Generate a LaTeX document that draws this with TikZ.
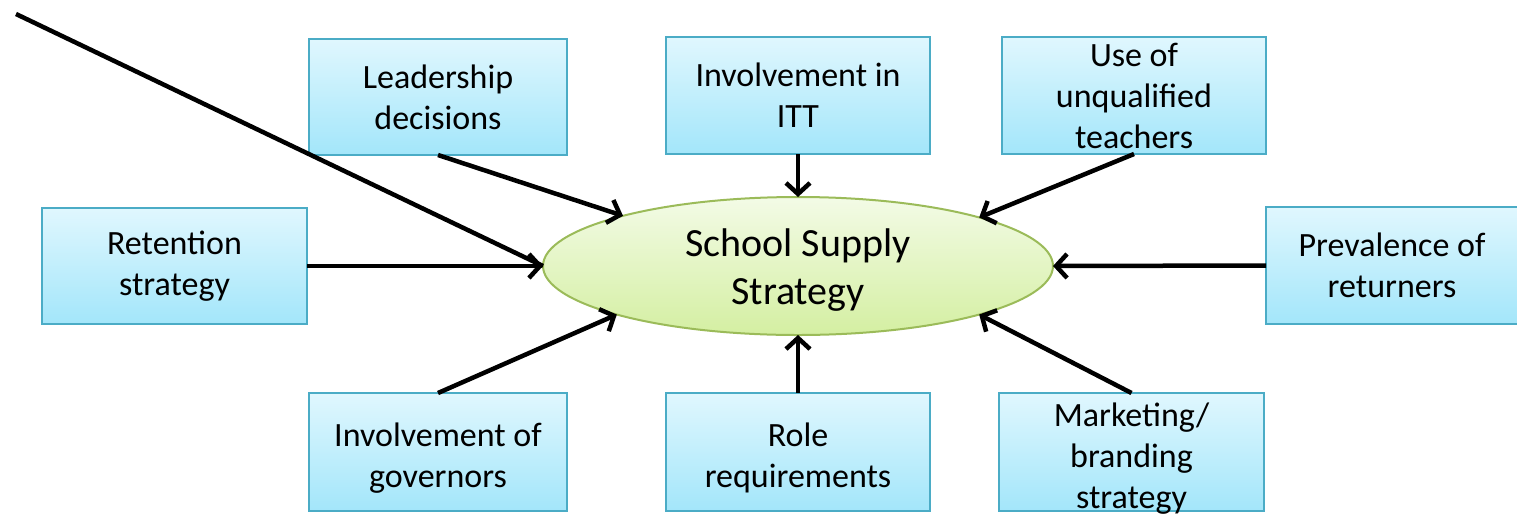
\documentclass[tikz,border=0pt]{standalone}
\usepackage{fontspec}
\setmainfont{Carlito}
\usetikzlibrary{shapes.geometric,arrows.meta}
\definecolor{boxtop}{HTML}{E0F7FE}
\definecolor{boxbot}{HTML}{A3E6FA}
\definecolor{boxline}{HTML}{4BACC6}
\definecolor{elltop}{HTML}{F3FBE6}
\definecolor{ellbot}{HTML}{D4EFA2}
\definecolor{ellline}{HTML}{9BBB59}
\tikzset{
  box/.style={rectangle, draw=boxline, line width=2pt, top color=boxtop, bottom color=boxbot,
    minimum width=#1, minimum height=116pt, inner sep=0pt, outer sep=0pt},
  box/.default=258pt,
  boxtext/.style={align=center, font=\fontsize{34}{41}\selectfont, inner sep=0pt},
  ell/.style={ellipse, draw=ellline, line width=2pt, top color=elltop, bottom color=ellbot,
    minimum width=510pt, minimum height=138pt, inner sep=0pt, outer sep=0pt},
  elltext/.style={align=center, font=\fontsize{40}{48}\selectfont, inner sep=0pt},
  arr/.style={line width=4.5pt, -{Straight Barb[length=11pt,width=24pt,line width=4.5pt]}},
  plain/.style={line width=4.5pt}
}
\begin{document}
\begin{tikzpicture}[x=1pt,y=-1pt]
\useasboundingbox (0,0) rectangle (1517,515);
% central ellipse
\node[ell] (ss) at (798,266) {};
\node[elltext] (sst) at (798,270) {School Supply\\Strategy};
% boxes
\node[box] (lead) at (438,97) {};
\node[boxtext] at (lead) {Leadership\\decisions};
\node[box=264pt, minimum height=117pt] (itt) at (798,95.5) {};
\node[boxtext] at (itt) {Involvement in\\ITT};
\node[box=264pt, minimum height=117pt] (unq) at (1134,95.5) {};
\node[boxtext] at (unq) {Use of\\unqualified\\teachers};
\node[box=265pt] (ret) at (174.5,266) {};
\node[boxtext] at (ret) {Retention\\strategy};
\node[box=264pt, minimum height=117pt] (prev) at (1398,265.5) {};
\node[boxtext] at (1392,265.5) {Prevalence of\\returners};
\node[box=258pt, minimum height=118pt] (gov) at (438,452) {};
\node[boxtext] at ([yshift=-6pt]gov.center) {Involvement of\\governors};
\node[box=264pt, minimum height=118pt] (role) at (798,452) {};
\node[boxtext] at ([yshift=-6pt]role.center) {Role\\requirements};
\node[box=265pt, minimum height=118pt] (mkt) at (1131.5,452) {};
\node[boxtext] at ([yshift=-7pt]mkt.center) {Marketing/\\branding\\strategy};
% connectors
\coordinate (far) at (16,14);
\draw[plain] (far) -- (ss.west);
\draw[arr] (lead.south) -- (ss.164);
\draw[arr] (itt.south) -- (ss.north);
\draw[arr] (unq.south) -- (ss.15);
\draw[arr] (ret.east) -- (ss.west);
\draw[arr] (prev.west) -- (ss.east);
\draw[arr] (gov.north) -- (ss.195);
\draw[arr] (role.north) -- (ss.south);
\draw[arr] (mkt.north) -- (ss.345);
\end{tikzpicture}
\end{document}
